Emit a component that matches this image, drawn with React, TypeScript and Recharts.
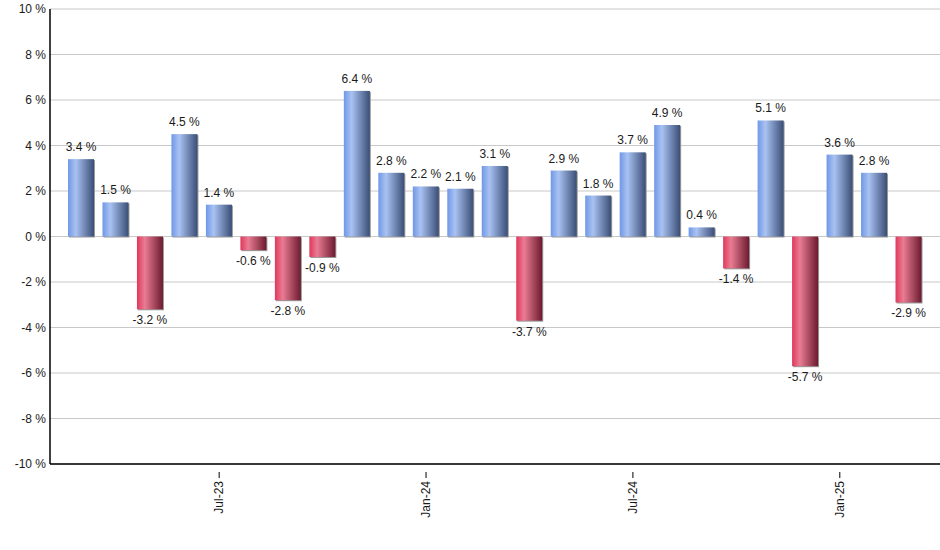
import React from 'react';
import { BarChart, Bar, XAxis, YAxis, CartesianGrid, Cell, LabelList } from 'recharts';

const months = [
  'Mar-23', 'Apr-23', 'May-23', 'Jun-23', 'Jul-23', 'Aug-23', 'Sep-23', 'Oct-23', 'Nov-23',
  'Dec-23', 'Jan-24', 'Feb-24', 'Mar-24', 'Apr-24', 'May-24', 'Jun-24', 'Jul-24', 'Aug-24',
  'Sep-24', 'Oct-24', 'Nov-24', 'Dec-24', 'Jan-25', 'Feb-25', 'Mar-25',
];
const returns = [
  3.4, 1.5, -3.2, 4.5, 1.4, -0.6, -2.8, -0.9, 6.4, 2.8, 2.2, 2.1, 3.1,
  -3.7, 2.9, 1.8, 3.7, 4.9, 0.4, -1.4, 5.1, -5.7, 3.6, 2.8, -2.9,
];
const shownMonths = ['Jul-23', 'Jan-24', 'Jul-24', 'Jan-25'];
const yTicks = [-10, -8, -6, -4, -2, 0, 2, 4, 6, 8, 10];

const data = months.map((m, i) => ({ month: m, value: returns[i] }));

const FONT = '"Liberation Sans", Arial, sans-serif';

const BarShape = (props: any) => {
  const { x, y, width, height, value } = props;
  const top = Math.min(y, y + height);
  const h = Math.abs(height);
  const fill = value >= 0 ? 'url(#blueGrad)' : 'url(#redGrad)';
  return (
    <g>
      <rect x={x + 1} y={top + 1} width={width} height={h} fill="#9a9a9a" />
      <rect x={x} y={top} width={width} height={h} fill={fill} />
    </g>
  );
};

const ValueLabel = (props: any) => {
  const { x, y, width, height, value } = props;
  const top = Math.min(y, y + height);
  const bottom = Math.max(y, y + height);
  const cy = value >= 0 ? top - 8 : bottom + 15;
  return (
    <text x={x + width / 2} y={cy} textAnchor="middle" fontSize={12} fill="#1a1a1a" fontFamily={FONT}>
      {`${value.toFixed(1)} %`}
    </text>
  );
};

const XTick = (props: any) => {
  const { x, y, payload } = props;
  if (!shownMonths.includes(payload.value)) return null;
  return (
    <g transform={`translate(${x},${y})`}>
      <line x1={0} y1={0} x2={0} y2={6} stroke="#000" />
      <text transform="rotate(-90)" x={-9} y={0} dy={4} textAnchor="end" fontSize={12} fill="#1a1a1a" fontFamily={FONT}>
        {payload.value}
      </text>
    </g>
  );
};

const YTick = (props: any) => {
  const { x, y, payload } = props;
  return (
    <text x={46} y={y} dy={4} textAnchor="end" fontSize={12} fill="#1a1a1a" fontFamily={FONT}>
      {`${payload.value} %`}
    </text>
  );
};

export default function App() {
  return (
    <div style={{ position: 'absolute', left: 0, top: 0, background: '#fff' }}>
      <BarChart width={940} height={550} data={data} margin={{ top: 9, right: 0, left: 0, bottom: 0 }}>
        <defs>
          <linearGradient id="blueGrad" x1="0" y1="0" x2="1" y2="0">
            <stop offset="0%" stopColor="#7098e6" />
            <stop offset="30%" stopColor="#a9c2f2" />
            <stop offset="100%" stopColor="#3a4e76" />
          </linearGradient>
          <linearGradient id="redGrad" x1="0" y1="0" x2="1" y2="0">
            <stop offset="0%" stopColor="#e0385c" />
            <stop offset="30%" stopColor="#e97c93" />
            <stop offset="100%" stopColor="#6c1a2f" />
          </linearGradient>
        </defs>
        <CartesianGrid vertical={false} stroke="#c8c8c8" />
        <XAxis
          dataKey="month"
          interval={0}
          height={86}
          padding={{ left: 14, right: 14 }}
          axisLine={{ stroke: '#000', strokeWidth: 1.5 }}
          tickLine={false}
          tick={<XTick />}
        />
        <YAxis
          domain={[-10, 10]}
          ticks={yTicks}
          width={50}
          axisLine={{ stroke: '#000', strokeWidth: 1.5 }}
          tickLine={false}
          tick={<YTick />}
        />
        <Bar dataKey="value" barSize={26} shape={<BarShape />} isAnimationActive={false}>
          {data.map((d, i) => (
            <Cell key={i} fill={d.value >= 0 ? 'url(#blueGrad)' : 'url(#redGrad)'} />
          ))}
          <LabelList dataKey="value" content={<ValueLabel />} />
        </Bar>
      </BarChart>
    </div>
  );
}
